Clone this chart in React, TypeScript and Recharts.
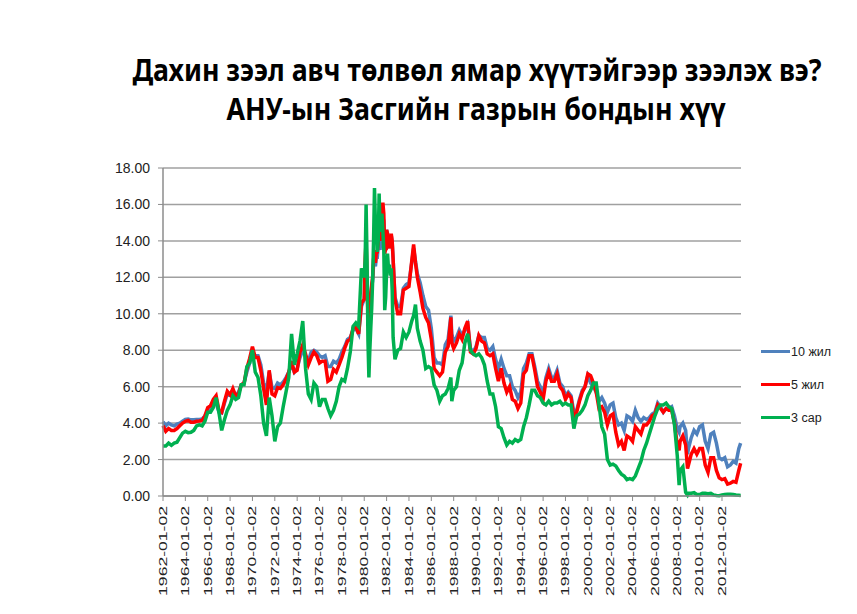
import React, { useLayoutEffect, useRef, useState } from 'react';
import { LineChart, Line, XAxis, YAxis, CartesianGrid } from 'recharts';

// observation dates (year-month), quarterly with extra points in volatile spells
const dates = [
  '1962-01', '1962-04', '1962-07', '1962-10',
  '1963-01', '1963-04', '1963-07', '1963-10',
  '1964-01', '1964-04', '1964-07', '1964-10',
  '1965-01', '1965-04', '1965-07', '1965-10',
  '1966-01', '1966-04', '1966-07', '1966-10',
  '1967-01', '1967-04', '1967-07', '1967-10',
  '1968-01', '1968-04', '1968-07', '1968-10',
  '1969-01', '1969-04', '1969-07', '1969-10',
  '1970-01', '1970-04', '1970-07', '1970-10',
  '1971-01', '1971-04', '1971-07', '1971-10',
  '1972-01', '1972-04', '1972-07', '1972-10',
  '1973-01', '1973-04', '1973-07', '1973-10',
  '1974-01', '1974-04', '1974-07', '1974-10',
  '1975-01', '1975-04', '1975-07', '1975-10',
  '1976-01', '1976-04', '1976-07', '1976-10',
  '1977-01', '1977-04', '1977-07', '1977-10',
  '1978-01', '1978-04', '1978-07', '1978-10',
  '1979-01', '1979-04', '1979-07', '1979-10',
  '1980-01', '1980-02', '1980-03', '1980-04', '1980-05', '1980-06', '1980-07', '1980-08', '1980-09', '1980-10', '1980-11', '1980-12',
  '1981-01', '1981-02', '1981-03', '1981-04', '1981-05', '1981-06', '1981-07', '1981-08', '1981-09', '1981-10', '1981-11', '1981-12',
  '1982-01', '1982-02', '1982-03', '1982-04', '1982-05', '1982-06', '1982-07', '1982-08', '1982-10',
  '1983-01', '1983-04', '1983-07', '1983-10',
  '1984-01', '1984-04', '1984-06', '1984-08', '1984-10',
  '1985-01', '1985-04', '1985-07', '1985-10',
  '1986-01', '1986-04', '1986-07', '1986-10',
  '1987-01', '1987-04', '1987-07', '1987-10', '1987-11',
  '1988-01', '1988-04', '1988-07', '1988-10',
  '1989-01', '1989-04', '1989-07', '1989-10',
  '1990-01', '1990-04', '1990-07', '1990-10',
  '1991-01', '1991-04', '1991-07', '1991-10',
  '1992-01', '1992-04', '1992-07', '1992-10',
  '1993-01', '1993-04', '1993-07', '1993-10',
  '1994-01', '1994-04', '1994-07', '1994-10',
  '1995-01', '1995-04', '1995-07', '1995-10',
  '1996-01', '1996-04', '1996-07', '1996-10',
  '1997-01', '1997-04', '1997-07', '1997-10',
  '1998-01', '1998-04', '1998-07', '1998-10',
  '1999-01', '1999-04', '1999-07', '1999-10',
  '2000-01', '2000-04', '2000-07', '2000-10',
  '2001-01', '2001-04', '2001-07', '2001-10',
  '2002-01', '2002-04', '2002-07', '2002-10',
  '2003-01', '2003-04', '2003-07', '2003-10',
  '2004-01', '2004-04', '2004-07', '2004-10',
  '2005-01', '2005-04', '2005-07', '2005-10',
  '2006-01', '2006-04', '2006-07', '2006-10',
  '2007-01', '2007-04', '2007-07', '2007-10',
  '2008-01', '2008-03', '2008-04', '2008-07', '2008-10', '2008-12',
  '2009-01', '2009-04', '2009-07', '2009-10',
  '2010-01', '2010-04', '2010-07', '2010-10',
  '2011-01', '2011-04', '2011-07', '2011-10',
  '2012-01', '2012-04', '2012-07', '2012-10',
  '2013-01', '2013-04', '2013-07', '2013-09',
];

// 10 жил
const tenYear = [
  4.08, 3.85, 4.0, 3.9,
  3.85, 3.95, 4.0, 4.1,
  4.2, 4.22, 4.18, 4.18,
  4.2, 4.2, 4.22, 4.4,
  4.65, 4.75, 5.15, 5.1,
  4.6, 4.55, 5.1, 5.6,
  5.55, 5.8, 5.5, 5.7,
  6.1, 6.2, 6.8, 7.3,
  7.9, 7.7, 7.7, 7.2,
  6.2, 5.8, 6.8, 5.95,
  5.9, 6.2, 6.1, 6.25,
  6.5, 6.8, 7.2, 6.8,
  7.0, 7.6, 8.0, 7.7,
  7.4, 7.9, 8.0, 7.9,
  7.7, 7.6, 7.7, 7.1,
  7.1, 7.4, 7.3, 7.5,
  7.9, 8.2, 8.6, 8.7,
  9.1, 9.2, 8.9, 10.4,
  10.8, 12.4, 12.75, 11.5, 10.2, 9.8, 10.2, 11.1, 11.5, 11.8, 12.7, 12.8,
  12.6, 13.1, 13.1, 13.7, 14.1, 13.5, 14.3, 15.0, 15.3, 15.1, 13.4, 13.7,
  14.6, 14.4, 13.8, 13.9, 13.6, 14.3, 13.9, 13.0, 10.9,
  10.4, 10.4, 11.4, 11.6,
  11.7, 12.8, 13.6, 12.9, 12.2,
  11.7, 11.0, 10.4, 10.2,
  9.2, 7.6, 7.3, 7.3,
  7.2, 8.3, 8.6, 9.9, 8.9,
  8.5, 8.7, 9.1, 8.8,
  9.1, 9.4, 8.1, 7.9,
  8.2, 8.8, 8.7, 8.7,
  8.1, 8.0, 8.2, 7.5,
  7.0, 7.5, 7.0, 6.6,
  6.6, 6.0, 5.8, 5.4,
  5.7, 7.0, 7.3, 7.8,
  7.8, 7.1, 6.3, 6.0,
  5.6, 6.5, 7.0, 6.5,
  6.5, 6.9, 6.2, 6.0,
  5.5, 5.7, 5.5, 4.6,
  4.7, 5.3, 5.8, 6.0,
  6.6, 6.2, 6.0, 5.7,
  5.2, 5.4, 5.1, 4.6,
  5.0, 5.1, 4.3, 3.9,
  4.0, 3.6, 4.4, 4.3,
  4.1, 4.7, 4.3, 4.1,
  4.3, 4.2, 4.3, 4.5,
  4.6, 5.1, 4.9, 4.6,
  4.8, 4.8, 4.9, 4.4,
  3.7, 3.5, 3.8, 4.0, 3.6, 2.3,
  2.6, 3.2, 3.6, 3.4,
  3.8, 3.9, 3.0, 2.6,
  3.4, 3.5, 2.9, 2.1,
  2.0, 2.1, 1.6, 1.7,
  1.9, 1.8, 2.6, 2.9,
];

// 5 жил
const fiveYear = [
  3.86, 3.55, 3.7, 3.6,
  3.6, 3.7, 3.85, 4.0,
  4.1, 4.15, 4.05, 4.05,
  4.1, 4.12, 4.15, 4.4,
  4.85, 4.95, 5.3, 5.5,
  4.7, 4.6, 5.2, 5.75,
  5.55, 5.9, 5.5, 5.6,
  6.1, 6.2, 7.0, 7.55,
  8.2, 7.6, 7.6, 6.9,
  5.9, 5.0, 6.9, 5.6,
  5.5, 5.95, 5.9, 6.1,
  6.4, 6.8, 7.4, 6.8,
  6.9, 7.9, 8.3, 7.8,
  7.2, 7.6, 7.9, 7.7,
  7.3, 7.4, 7.4, 6.3,
  6.4, 6.95, 6.8, 7.2,
  7.6, 8.1, 8.5, 8.6,
  9.2, 9.3, 8.9, 10.6,
  10.8, 13.0, 14.0, 12.0, 9.8, 9.4, 9.8, 11.0, 11.6, 12.0, 13.0, 13.2,
  12.8, 13.4, 13.4, 14.0, 14.8, 14.0, 14.8, 15.6, 16.1, 15.5, 13.3, 13.6,
  14.6, 14.4, 13.8, 13.9, 13.6, 14.4, 14.0, 13.0, 10.8,
  10.0, 10.0, 11.3, 11.4,
  11.5, 12.9, 13.8, 12.8, 12.0,
  11.2, 10.3, 9.8, 9.5,
  8.6, 7.0, 6.8, 6.6,
  6.8, 7.9, 8.2, 9.8, 8.4,
  8.1, 8.4, 8.9, 8.6,
  9.2, 9.6, 7.9, 7.8,
  8.1, 8.8, 8.5, 8.4,
  7.8, 7.7, 7.8, 7.0,
  6.3, 7.0, 6.2, 5.7,
  6.0, 5.3, 5.2, 4.8,
  5.1, 6.7, 6.9, 7.7,
  7.7, 6.9, 6.0, 5.7,
  5.3, 6.3, 6.8, 6.3,
  6.3, 6.7, 6.0, 5.8,
  5.3, 5.6, 5.4, 4.3,
  4.6, 5.2, 5.7, 6.0,
  6.7, 6.6, 6.2, 5.7,
  4.8, 4.9, 4.6, 3.9,
  4.4, 4.5, 3.5, 2.8,
  3.0, 2.5, 3.3, 3.2,
  3.0, 3.8, 3.6, 3.4,
  3.9, 3.9, 4.1, 4.4,
  4.5, 5.0, 4.8, 4.6,
  4.8, 4.7, 4.7, 4.0,
  2.8, 2.5, 3.0, 3.3, 2.8, 1.5,
  1.7, 2.3, 2.6, 2.3,
  2.6, 2.6, 1.7, 1.3,
  2.1, 2.1, 1.4, 1.0,
  0.9, 0.95, 0.65, 0.7,
  0.8, 0.75, 1.4, 1.8,
];

// 3 сар
const threeMonth = [
  2.75, 2.75, 2.9, 2.78,
  2.9, 2.95, 3.2, 3.45,
  3.55, 3.48, 3.5, 3.6,
  3.85, 3.9, 3.85, 4.1,
  4.6, 4.6, 4.85, 5.4,
  4.6, 3.6, 4.2, 4.7,
  5.0, 5.5, 5.3, 5.4,
  6.1, 6.1, 7.1, 7.3,
  8.0, 6.8, 6.5, 5.5,
  4.0, 3.3, 5.4, 4.4,
  3.0, 3.8, 4.0, 4.9,
  5.7, 6.5, 8.9, 7.2,
  7.8, 8.5, 9.6, 7.0,
  5.6, 5.3, 6.2, 6.0,
  4.9, 5.3, 5.3, 4.8,
  4.4, 4.7, 5.2, 6.0,
  6.4, 6.3, 7.0, 7.9,
  9.3, 9.5, 9.3, 12.5,
  12.0, 13.0, 16.0, 13.0, 8.5, 6.5, 8.0, 9.2, 10.3, 11.8, 14.0, 16.9,
  15.0, 14.8, 13.4, 14.0, 16.6, 14.5, 15.0, 15.5, 14.5, 13.5, 10.2, 10.9,
  12.3, 13.3, 12.5, 12.7, 12.1, 12.5, 11.3, 8.7, 7.5,
  8.0, 8.1, 9.0, 8.7,
  9.0, 9.6, 9.9, 10.5, 9.2,
  8.5, 8.0, 7.0, 7.1,
  7.0, 6.1, 5.8, 5.2,
  5.5, 5.6, 5.9, 6.5, 5.2,
  5.8, 6.0, 6.9, 7.3,
  8.4, 8.9, 8.0, 7.8,
  7.7, 7.8, 7.6, 7.2,
  6.3, 5.6, 5.6, 4.9,
  3.8, 3.7, 3.2, 2.8,
  3.0, 2.9, 3.1, 3.0,
  3.1, 3.8, 4.3, 5.0,
  5.8, 5.8, 5.5, 5.4,
  5.1, 5.0, 5.2, 5.0,
  5.1, 5.1, 5.2, 5.0,
  5.1, 5.0, 5.0, 3.7,
  4.4, 4.5, 4.7, 5.0,
  5.5, 5.8, 6.2, 6.2,
  5.0, 3.8, 3.4, 2.0,
  1.7, 1.75, 1.65, 1.4,
  1.2, 1.1, 0.9, 0.95,
  0.9, 1.1, 1.5, 1.9,
  2.5, 2.9, 3.4, 3.9,
  4.4, 4.8, 5.0, 5.0,
  5.1, 4.9, 4.8, 3.9,
  2.2, 0.6, 1.4, 1.6, 0.2, 0.05,
  0.15, 0.15, 0.18, 0.08,
  0.08, 0.15, 0.15, 0.13,
  0.15, 0.06, 0.03, 0.02,
  0.05, 0.08, 0.1, 0.1,
  0.08, 0.05, 0.04, 0.03,
];

const tickLabels = [
  '1962-01-02', '1964-01-02', '1966-01-02', '1968-01-02', '1970-01-02', '1972-01-02',
  '1974-01-02', '1976-01-02', '1978-01-02', '1980-01-02', '1982-01-02', '1984-01-02',
  '1986-01-02', '1988-01-02', '1990-01-02', '1992-01-02', '1994-01-02', '1996-01-02',
  '1998-01-02', '2000-01-02', '2002-01-02', '2004-01-02', '2006-01-02', '2008-01-02',
  '2010-01-02', '2012-01-02',
];

const yTicks = [0, 2, 4, 6, 8, 10, 12, 14, 16, 18];

const titleLines = [
  'Дахин зээл авч төлвөл ямар хүүтэйгээр зээлэх вэ?',
  'АНУ-ын Засгийн газрын бондын хүү',
];

const series = [
  { key: 't10', name: '10 жил', color: '#4f81bd' },
  { key: 't5', name: '5 жил', color: '#ff0000' },
  { key: 'm3', name: '3 сар', color: '#00b050' },
];

const toYear = (d: string) => {
  const [y, m] = d.split('-').map(Number);
  return y + (m - 1) / 12;
};

const data = dates.map((d, i) => ({
  x: toYear(d),
  t10: tenYear[i],
  t5: fiveYear[i],
  m3: threeMonth[i],
}));

const xTicks = tickLabels.map((l) => Number(l.slice(0, 4)));

const XTick = (props: any) => {
  const { x, y, payload } = props;
  const label = tickLabels[xTicks.indexOf(payload.value)] ?? '';
  return (
    <text
      transform={`translate(${x},${y + 3}) rotate(-90) scale(1.6,1)`}
      textAnchor="end"
      dy="0.35em"
      fontSize={11}
      fill="#222"
      fontFamily="'Liberation Sans', Arial, sans-serif"
    >
      {label}
    </text>
  );
};

// title line squeezed to the width it has in the slide
function FitLine({ text, width, top, center }: { text: string; width: number; top: number; center: number }) {
  const ref = useRef<HTMLSpanElement>(null);
  const [k, setK] = useState(1);
  useLayoutEffect(() => {
    if (ref.current) setK(width / ref.current.offsetWidth);
  }, [text, width]);
  return (
    <span
      ref={ref}
      style={{
        position: 'absolute',
        left: center,
        top,
        whiteSpace: 'nowrap',
        fontFamily: "'Noto Sans', sans-serif",
        fontWeight: 700,
        fontSize: 31,
        lineHeight: '40px',
        color: '#000',
        transform: `translateX(-50%) scaleX(${k})`,
        transformOrigin: '50% 50%',
      }}
    >
      {text}
    </span>
  );
}

export default function App() {
  return (
    <div style={{ position: 'absolute', left: 0, top: 0, width: 857, height: 614, background: '#fff', overflow: 'hidden' }}>
      <FitLine text={titleLines[0]} width={689} top={49} center={477} />
      <FitLine text={titleLines[1]} width={499} top={88} center={476} />

      <div style={{ position: 'absolute', left: 0, top: 135 }}>
        <LineChart width={857} height={479} data={data} margin={{ top: 33, right: 116, bottom: 0, left: 0 }}>
          <CartesianGrid vertical={false} stroke="#a0a0a0" strokeWidth={1.5} />
          <XAxis
            dataKey="x"
            type="number"
            domain={[1962, 2013.7]}
            ticks={xTicks}
            interval={0}
            height={118}
            tick={<XTick />}
            tickSize={5}
            axisLine={{ stroke: '#8c8c8c', strokeWidth: 1.5 }}
            tickLine={{ stroke: '#8c8c8c' }}
          />
          <YAxis
            domain={[0, 18]}
            ticks={yTicks}
            width={163}
            tickSize={5}
            tickMargin={8}
            tickFormatter={(v: number) => v.toFixed(2)}
            tick={{ fontSize: 14, fill: '#222', fontFamily: "'Liberation Sans', Arial, sans-serif" }}
            axisLine={{ stroke: '#8c8c8c', strokeWidth: 1.5 }}
            tickLine={{ stroke: '#8c8c8c' }}
          />
          {series.map((s) => (
            <Line
              key={s.key}
              dataKey={s.key}
              name={s.name}
              stroke={s.color}
              strokeWidth={3.5}
              dot={false}
              type="linear"
              isAnimationActive={false}
            />
          ))}
        </LineChart>
      </div>

      <div style={{ position: 'absolute', left: 761, top: 335, fontFamily: "'Liberation Sans', Arial, sans-serif", fontSize: 12.5, color: '#222' }}>
        {series.map((s) => (
          <div key={s.key} style={{ display: 'flex', alignItems: 'center', height: 33 }}>
            <div style={{ width: 29, height: 3, background: s.color, marginRight: 1 }} />
            <span>{s.name}</span>
          </div>
        ))}
      </div>
    </div>
  );
}
